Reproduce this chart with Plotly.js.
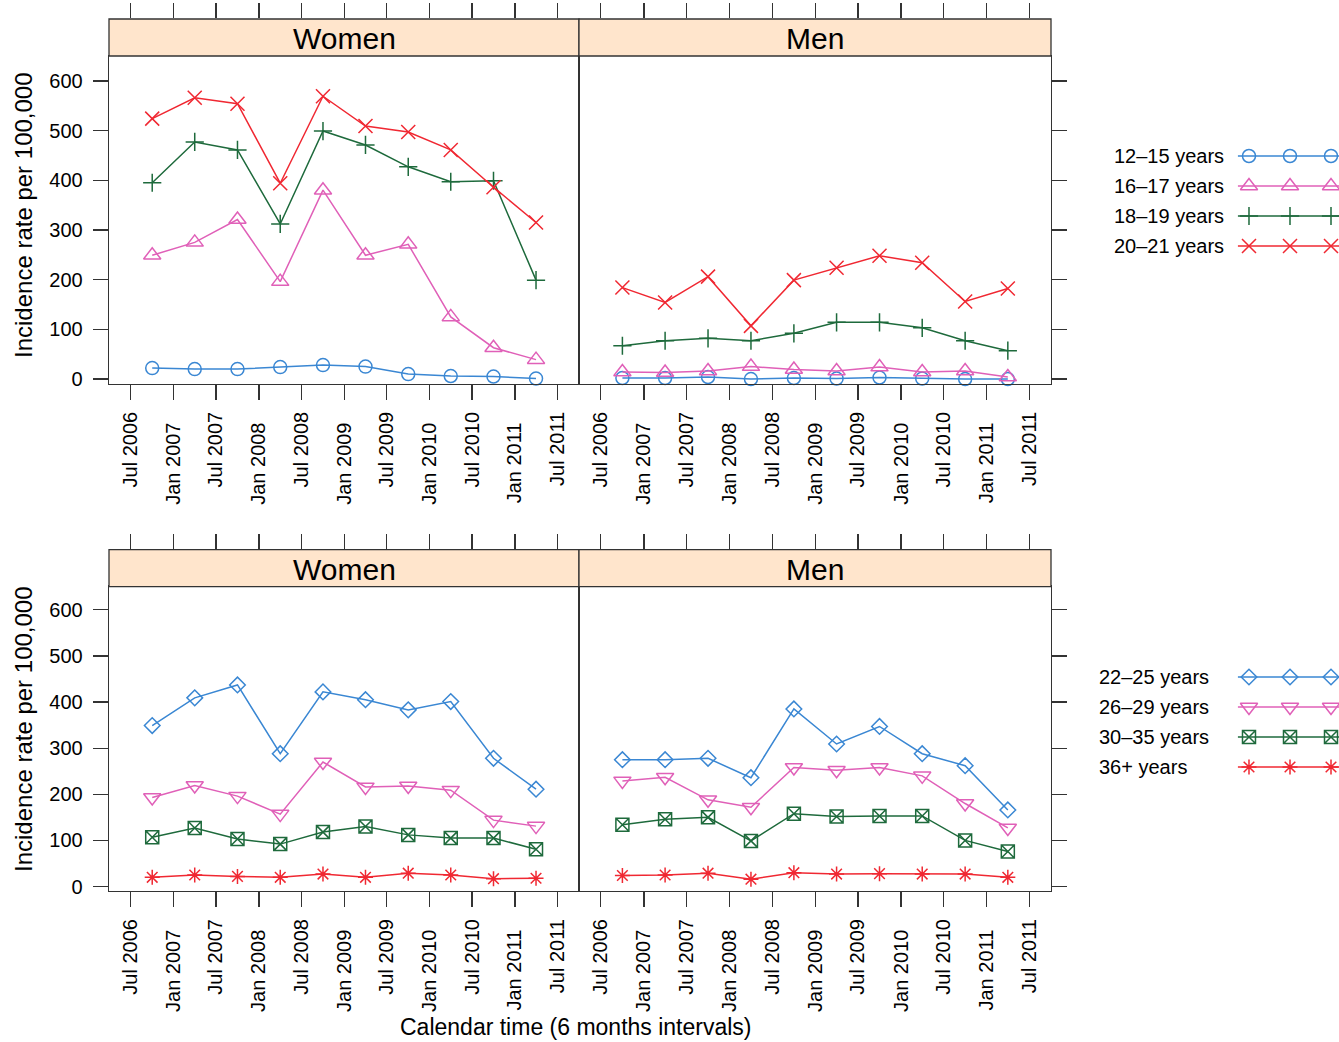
<!DOCTYPE html>
<html><head><meta charset="utf-8">
<script src="https://cdn.plot.ly/plotly-3.0.1.min.js"></script>
<style>html,body{margin:0;padding:0;background:#fff}#chart{width:1339px;height:1042px}</style>
</head><body><div id="chart"></div>
<script>
// ---------- data ----------
const periods = ['2006-10-01','2007-04-01','2007-10-01','2008-04-01','2008-10-01',
                 '2009-04-01','2009-10-01','2010-04-01','2010-10-01','2011-04-01'];
const julTicks = ['2006-07-01','2007-07-01','2008-07-01','2009-07-01','2010-07-01','2011-07-01'];
const julLabels = ['Jul 2006','Jul 2007','Jul 2008','Jul 2009','Jul 2010','Jul 2011'];
const janTicks = ['2007-01-01','2008-01-01','2009-01-01','2010-01-01','2011-01-01'];
const janLabels = ['Jan 2007','Jan 2008','Jan 2009','Jan 2010','Jan 2011'];
const yTickVals = [0,100,200,300,400,500,600];
const panelTitles = ['Women','Men'];
const groupsTop = ['12–15 years','16–17 years','18–19 years','20–21 years'];
const groupsBottom = ['22–25 years','26–29 years','30–35 years','36+ years'];
const xTitle = 'Calendar time (6 months intervals)';
const yTitle = 'Incidence rate per 100,000';

const women_12_15 = [22,20,20,24,28,25,10,6,5,1];
const women_16_17 = [249,275,321,196,380,249,271,125,63,39];
const women_18_19 = [395,477,461,312,499,471,427,397,399,199];
const women_20_21 = [524,566,554,394,569,509,497,461,386,315];
const men_12_15 = [2,2,4,0,2,1,3,1,0,0];
const men_16_17 = [14,13,16,25,19,16,24,14,16,4];
const men_18_19 = [67,77,82,77,92,114,114,103,77,57];
const men_20_21 = [184,154,206,107,199,224,248,234,156,182];
const women_22_25 = [349,409,437,288,422,405,383,401,278,211];
const women_26_29 = [193,219,196,157,270,216,218,209,144,131];
const women_30_35 = [107,127,103,92,118,130,112,105,105,81];
const women_36p = [20,25,22,20,27,20,29,25,17,18];
const men_22_25 = [275,275,278,236,385,309,347,288,262,166];
const men_26_29 = [229,237,188,172,258,252,258,240,180,127];
const men_30_35 = [134,146,150,99,158,152,153,153,100,76];
const men_36p = [24,25,29,16,30,27,28,27,27,20];

// ---------- styling ----------
const W = 1339, H = 1042;
const FONT = '"Liberation Sans", Arial, Helvetica, sans-serif';
const colors = ['#3a87d3','#e060b8','#1e6a3c','#f02832'];
const symbols = [
  ['circle-open','triangle-up-open','cross-thin-open','x-thin-open'],
  ['diamond-open','triangle-down-open','square-x-open','asterisk-open']
];
const sizes = [[13,15,13,14],[12,15,13,12.5]];
const groups = [groupsTop, groupsBottom];
const panelData = [
  [[women_12_15,women_16_17,women_18_19,women_20_21],[men_12_15,men_16_17,men_18_19,men_20_21]],
  [[women_22_25,women_26_29,women_30_35,women_36p],[men_22_25,men_26_29,men_30_35,men_36p]]
];
const px = x => x / W;
const py = y => 1 - y / H;
const colX = [[109,579],[579,1051]];
const rowY = [[56,383.5],[586.7,890.7]];
const stripH = 37;
const xRange = ['2006-03-30','2011-10-02'];
const yRange = [-9,650];
const LC = '#333', LW = 1.3;
const sfx = n => n === 1 ? '' : String(n);
const tickFont = {family: FONT, size: 20, color: '#000'};

const traces = [];
const layout = {
  width: W, height: H, margin: {l:0,r:0,t:0,b:0},
  paper_bgcolor: '#fff', plot_bgcolor: 'rgba(0,0,0,0)',
  showlegend: false, font: {family: FONT, color: '#000'},
  shapes: [], annotations: []
};

for (let r = 0; r < 2; r++) {
  layout['yaxis' + (5 + r)] = {domain: [py(rowY[r][1]), py(rowY[r][0])], range: [0,1], visible: false, fixedrange: true};
  layout['yaxis' + (7 + r)] = {domain: [py(rowY[r][0]), py(rowY[r][0] - stripH)], range: [0,1], visible: false, fixedrange: true};
  for (let c = 0; c < 2; c++) {
    const n = r * 2 + c + 1;
    const dom = [px(colX[c][0]), px(colX[c][1])];
    layout['xaxis' + sfx(n)] = {
      type: 'date', domain: dom, range: xRange, anchor: 'y' + sfx(n),
      tickmode: 'array', tickvals: julTicks, ticktext: julLabels,
      ticks: 'outside', ticklen: 15, tickwidth: LW, tickcolor: LC, tickangle: -90,
      tickfont: tickFont, ticklabelstandoff: 4,
      showline: true, linecolor: LC, linewidth: LW, mirror: true,
      showgrid: false, zeroline: false, fixedrange: true
    };
    layout['yaxis' + sfx(n)] = {
      domain: [py(rowY[r][1]), py(rowY[r][0])], range: yRange, anchor: 'x' + sfx(n),
      side: c === 0 ? 'left' : 'right',
      tickmode: 'array', tickvals: yTickVals, showticklabels: c === 0,
      ticks: 'outside', ticklen: 15, tickwidth: LW, tickcolor: LC,
      tickfont: tickFont, ticklabelstandoff: 6,
      showline: true, linecolor: LC, linewidth: LW, mirror: true,
      showgrid: false, zeroline: false, fixedrange: true
    };
    const nj = 4 + n;
    layout['xaxis' + nj] = {
      type: 'date', domain: dom, range: xRange, anchor: 'y' + (5 + r),
      tickmode: 'array', tickvals: janTicks, ticktext: janLabels,
      ticks: 'outside', ticklen: 15, tickwidth: LW, tickcolor: LC, tickangle: -90,
      tickfont: tickFont, ticklabelstandoff: 15,
      showline: false, showgrid: false, zeroline: false, fixedrange: true
    };
    traces.push({type:'scatter', x: [], y: [], xaxis: 'x' + nj, yaxis: 'y' + (5 + r), showlegend: false, hoverinfo: 'skip'});
    const nt = 8 + n;
    layout['xaxis' + nt] = {
      type: 'date', domain: dom, range: xRange, anchor: 'y' + (7 + r), side: 'top',
      tickmode: 'array', tickvals: julTicks.concat(janTicks), showticklabels: false,
      ticks: 'outside', ticklen: 15, tickwidth: LW, tickcolor: LC,
      showline: false, showgrid: false, zeroline: false, fixedrange: true
    };
    traces.push({type:'scatter', x: [], y: [], xaxis: 'x' + nt, yaxis: 'y' + (7 + r), showlegend: false, hoverinfo: 'skip'});
    layout.shapes.push({type: 'rect', xref: 'paper', yref: 'paper',
      x0: dom[0], x1: dom[1], y0: py(rowY[r][0]), y1: py(rowY[r][0] - stripH),
      fillcolor: '#ffe5cc', line: {color: LC, width: LW}});
    layout.annotations.push({xref: 'paper', yref: 'paper', x: (dom[0] + dom[1]) / 2,
      y: py(rowY[r][0] - stripH / 2 + 1), text: panelTitles[c], showarrow: false,
      xanchor: 'center', yanchor: 'middle', font: {family: FONT, size: 30, color: '#000'}});
    panelData[r][c].forEach((vals, i) => {
      traces.push({
        type: 'scatter', mode: 'lines+markers', x: periods, y: vals,
        xaxis: 'x' + sfx(n), yaxis: 'y' + sfx(n), name: groups[r][i], showlegend: false,
        line: {color: colors[i], width: 1.5},
        marker: {symbol: symbols[r][i], size: sizes[r][i], color: colors[i], line: {color: colors[i], width: 1.5}},
        cliponaxis: false
      });
    });
  }
  layout.annotations.push({xref: 'paper', yref: 'paper', x: px(23), y: py(r === 0 ? 215 : 729),
    text: yTitle, textangle: -90, showarrow: false, xanchor: 'center', yanchor: 'middle',
    font: {family: FONT, size: 24, color: '#000'}});
  const lx = 13 + r;
  const rowsTop = r === 0 ? 141 : 662;
  const textX = r === 0 ? 1112 : 1097;
  layout['xaxis' + lx] = {domain: [px(1228), 1], range: [-0.512, 2.195], anchor: 'y' + lx, visible: false, fixedrange: true};
  layout['yaxis' + lx] = {domain: [py(rowsTop + 120), py(rowsTop)], range: [3.5, -0.5], anchor: 'x' + lx, visible: false, fixedrange: true};
  groups[r].forEach((g, i) => {
    traces.push({type: 'scatter', mode: 'lines', x: [-0.27, 2.6], y: [i, i], xaxis: 'x' + lx, yaxis: 'y' + lx,
      line: {color: colors[i], width: 1.5}, showlegend: false, hoverinfo: 'skip'});
    traces.push({type: 'scatter', mode: 'markers', x: [0, 1, 2], y: [i, i, i], xaxis: 'x' + lx, yaxis: 'y' + lx,
      marker: {symbol: symbols[r][i], size: sizes[r][i], color: colors[i], line: {color: colors[i], width: 1.5}},
      showlegend: false, hoverinfo: 'skip'});
    layout.annotations.push({xref: 'paper', yref: 'paper', x: px(textX), y: py(rowsTop + 15 + 30 * i),
      text: g, showarrow: false, xanchor: 'left', yanchor: 'middle',
      font: {family: FONT, size: 20, color: '#000'}});
  });
}
layout.annotations.push({xref: 'paper', yref: 'paper', x: px(576), y: py(1027), text: xTitle,
  showarrow: false, xanchor: 'center', yanchor: 'middle', borderpad: 0,
  font: {family: FONT, size: 23, color: '#000'}});

Plotly.newPlot('chart', traces, layout, {staticPlot: true, displayModeBar: false});
</script>
</body></html>
